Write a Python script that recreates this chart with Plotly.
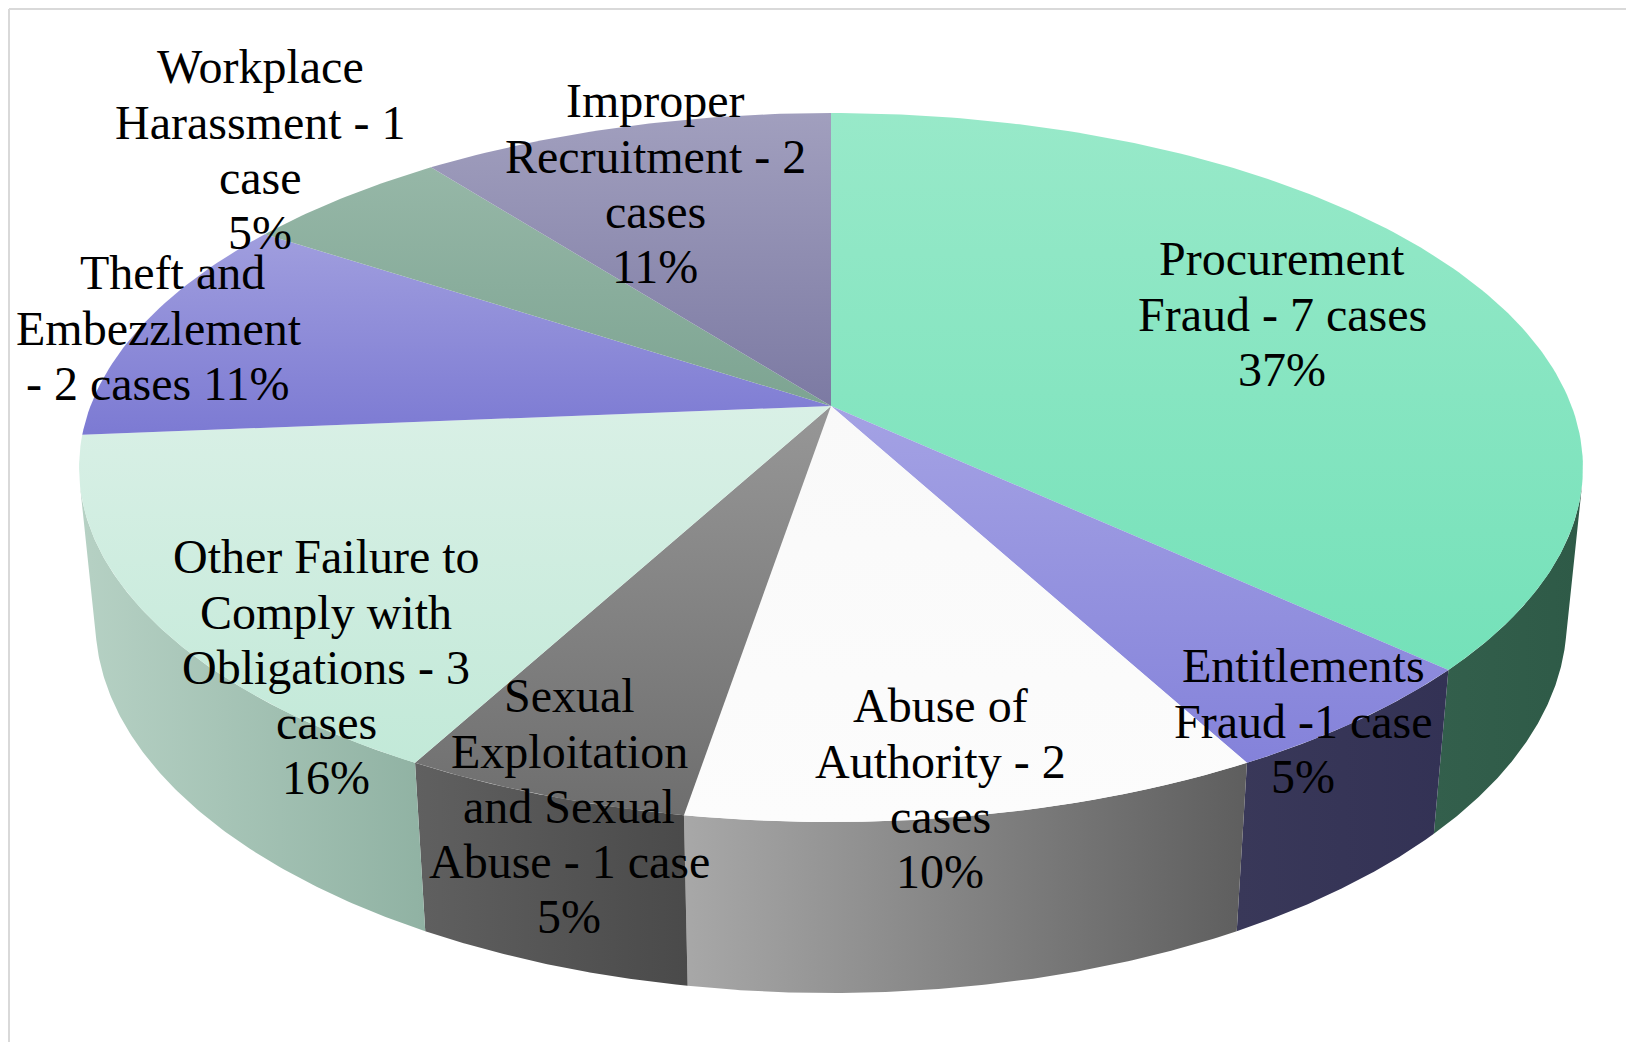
import numpy as np
import plotly.graph_objects as go

# ---------------- data ----------------
categories = [
    "Procurement Fraud",
    "Entitlements Fraud",
    "Abuse of Authority",
    "Sexual Exploitation and Sexual Abuse",
    "Other Failure to Comply with Obligations",
    "Theft and Embezzlement",
    "Workplace Harassment",
    "Improper Recruitment",
]
cases = [7, 1, 2, 1, 3, 2, 1, 2]
label_lines = [
    ["Procurement", "Fraud - 7 cases", "37%"],
    ["Entitlements", "Fraud -1 case", "5%"],
    ["Abuse of", "Authority - 2", "cases", "10%"],
    ["Sexual", "Exploitation", "and Sexual", "Abuse - 1 case", "5%"],
    ["Other Failure to", "Comply with", "Obligations - 3", "cases", "16%"],
    ["Theft and", "Embezzlement", "- 2 cases 11%"],
    ["Workplace", "Harassment - 1", "case", "5%"],
    ["Improper", "Recruitment - 2", "cases", "11%"],
]

# ---------------- styles ----------------
top_colors = [  # (upper, lower)
    ("#98E9C9", "#74E1B9"),
    ("#A4A2E4", "#8482DA"),
    ("#F9F9F9", "#FCFCFC"),
    ("#979797", "#6E6E6E"),
    ("#D9F0E6", "#C2E9D8"),
    ("#A09EDE", "#7C7AD3"),
    ("#96B7A7", "#7DA492"),
    ("#A19FBE", "#7C7AA3"),
]
side_colors = [  # (left, right)
    ("#335F4C", "#2E5A47"),
    ("#393859", "#333255"),
    ("#A8A8A8", "#5E5E5E"),
    ("#606060", "#4A4A4A"),
    ("#B6D1C4", "#90B2A3"),
    ("#7C7AD3", "#7C7AD3"),
    ("#7DA492", "#7DA492"),
    ("#7C7AA3", "#7C7AA3"),
]
# label layout: x centre per line and first baseline (pixels)
label_layout = [
    ([1282, 1282, 1282], 275),
    ([1303, 1303, 1303], 682),
    ([940, 940, 940, 940], 722),
    ([569, 569, 569, 569, 569], 712),
    ([326, 326, 326, 326, 326], 573),
    ([172, 159, 157], 289),
    ([260, 260, 260, 260], 83),
    ([655, 655, 655, 655], 117),
]
LINE_H = 55.2
FONT_SIZE = 48
W, HGT = 1626, 1042

# ---------------- 3D projection ----------------
CX, CY = 831.0, 406.0
D, C, S, F, TH = 5.103, 0.8857, 0.4643, 3779.0, 0.2345


def project(phi, yv):
    X = np.sin(phi)
    Z = -np.cos(phi)
    depth = D - (yv * S + Z * C)
    px = CX + F * X / depth
    py = CY - F * (yv * C - Z * S) / depth
    return px, HGT - py  # data y goes up


total = sum(cases)
bounds = np.concatenate([[0], np.cumsum(cases)]) / total * 2 * np.pi
zlim = 1.0 / (D * C)
vis0 = np.arccos(-zlim)
vis1 = 2 * np.pi - vis0

fig = go.Figure()

# side walls (front-facing part only)
for i, val in enumerate(cases):
    a0, a1 = bounds[i], bounds[i + 1]
    lo, hi = max(a0, vis0), min(a1, vis1)
    if hi <= lo:
        continue
    ph = np.linspace(lo, hi, 120)
    tx, ty = project(ph, 0.0)
    bx, by = project(ph[::-1], -TH)
    xs = np.concatenate([tx, bx, tx[:1]])
    ys = np.concatenate([ty, by, ty[:1]])
    cl, cr = side_colors[i]
    fig.add_trace(go.Scatter(
        x=xs, y=ys, mode="lines", fill="toself",
        line=dict(width=0, color=cl), fillcolor=cl,
        fillgradient=dict(type="horizontal", colorscale=[[0, cl], [1, cr]]),
        hoverinfo="skip", showlegend=False,
    ))

# top faces
for i, val in enumerate(cases):
    a0, a1 = bounds[i], bounds[i + 1]
    ph = np.linspace(a0, a1, max(30, int(400 * val / total)))
    ax, ay = project(ph, 0.0)
    xs = np.concatenate([[CX], ax, [CX]])
    ys = np.concatenate([[HGT - CY], ay, [HGT - CY]])
    cu, cd = top_colors[i]
    fig.add_trace(go.Scatter(
        x=xs, y=ys, mode="lines", fill="toself",
        line=dict(width=0, color=cu), fillcolor=cu,
        fillgradient=dict(type="vertical", colorscale=[[0, cd], [1, cu]]),
        name=categories[i], hoverinfo="name", showlegend=False,
    ))

# labels, line by line
annotations = []
for lines, (xs_l, base0) in zip(label_lines, label_layout):
    for k, txt in enumerate(lines):
        baseline = base0 + k * LINE_H
        annotations.append(dict(
            x=xs_l[k], y=HGT - (baseline - 16.2), xref="x", yref="y",
            text=txt, showarrow=False, xanchor="center", yanchor="middle",
            font=dict(family="Liberation Serif", size=FONT_SIZE, color="black"),
        ))

fig.update_layout(
    width=W, height=HGT,
    margin=dict(l=0, r=0, t=0, b=0),
    paper_bgcolor="white", plot_bgcolor="white",
    xaxis=dict(range=[0, W], visible=False, fixedrange=True),
    yaxis=dict(range=[0, HGT], visible=False, fixedrange=True),
    annotations=annotations,
    shapes=[
        dict(type="line", xref="x", yref="y", x0=9, x1=9, y0=0, y1=HGT - 9,
             line=dict(color="#D9D9D9", width=2)),
        dict(type="line", xref="x", yref="y", x0=9, x1=W, y0=HGT - 9, y1=HGT - 9,
             line=dict(color="#D9D9D9", width=2)),
    ],
)

fig.write_html(
    "out.html",
    config={"displayModeBar": False},
    post_script="document.body.style.margin='0';document.body.style.overflow='hidden';",
)
